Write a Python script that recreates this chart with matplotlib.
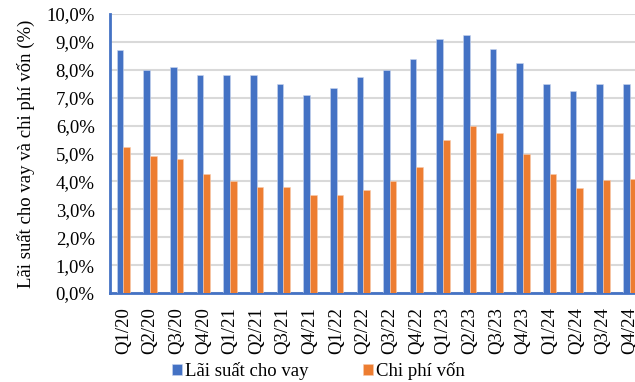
import matplotlib
matplotlib.use("Agg")
import matplotlib.pyplot as plt
import numpy as np
from matplotlib.ticker import FuncFormatter

quarters = ["Q1/20", "Q2/20", "Q3/20", "Q4/20",
            "Q1/21", "Q2/21", "Q3/21", "Q4/21",
            "Q1/22", "Q2/22", "Q3/22", "Q4/22",
            "Q1/23", "Q2/23", "Q3/23", "Q4/23",
            "Q1/24", "Q2/24", "Q3/24", "Q4/24"]
lai_suat = [8.7, 8.0, 8.1, 7.8, 7.8, 7.8, 7.5, 7.1, 7.35, 7.75,
            8.0, 8.4, 9.1, 9.25, 8.75, 8.25, 7.5, 7.25, 7.5, 7.5]
chi_phi = [5.25, 4.9, 4.8, 4.25, 4.0, 3.8, 3.8, 3.5, 3.5, 3.7,
           4.0, 4.5, 5.5, 6.0, 5.75, 5.0, 4.25, 3.75, 4.05, 4.1]

plt.rcParams['font.family'] = ['Liberation Serif', 'DejaVu Serif']

blue = '#4472C4'
orange = '#ED7D31'
fs = 13.5

fig = plt.figure(figsize=(6.35, 3.82), dpi=100)
# axes runs past the right edge, the last category is cut off like in the source
ax = fig.add_axes([110/635, 89/382, 533/635, 279/382])

x = np.arange(len(quarters))
w = 0.25
ax.bar(x - w/2, lai_suat, w, color=blue, edgecolor='#C9D5EE', linewidth=0.4,
       label='Lãi suất cho vay', zorder=3)
ax.bar(x + w/2, chi_phi, w, color=orange, edgecolor='#F8CBAD', linewidth=0.4,
       label='Chi phí vốn', zorder=3)

ax.set_xlim(-0.5, len(quarters) - 0.5)
ax.set_ylim(0, 10)
ax.set_yticks(np.arange(0, 11, 1))
ax.yaxis.set_major_formatter(FuncFormatter(lambda v, p: f"{v:.1f}".replace('.', ',') + '%'))
ax.set_xticks(x)
ax.set_xticklabels(quarters, rotation=90)
ax.tick_params(length=0, labelsize=fs)
ax.tick_params(axis='y', pad=11)
ax.tick_params(axis='x', pad=10)

ax.grid(axis='y', color='#D9D9D9', linewidth=1.5, zorder=0)
ax.set_axisbelow(True)
for s in ['top', 'right']:
    ax.spines[s].set_visible(False)
for s in ['left', 'bottom']:
    ax.spines[s].set_color(blue)
    ax.spines[s].set_linewidth(2)

ax.set_ylabel('Lãi suất cho vay và chi phí vốn (%)', fontsize=fs, labelpad=8)

fig.legend(loc='center', bbox_to_anchor=(318/635, 1 - 371/382), ncol=2,
           frameon=False, fontsize=fs, handlelength=0.55, handleheight=0.55,
           handletextpad=0.15, columnspacing=2.9)

fig.savefig('out.png', dpi=100)
